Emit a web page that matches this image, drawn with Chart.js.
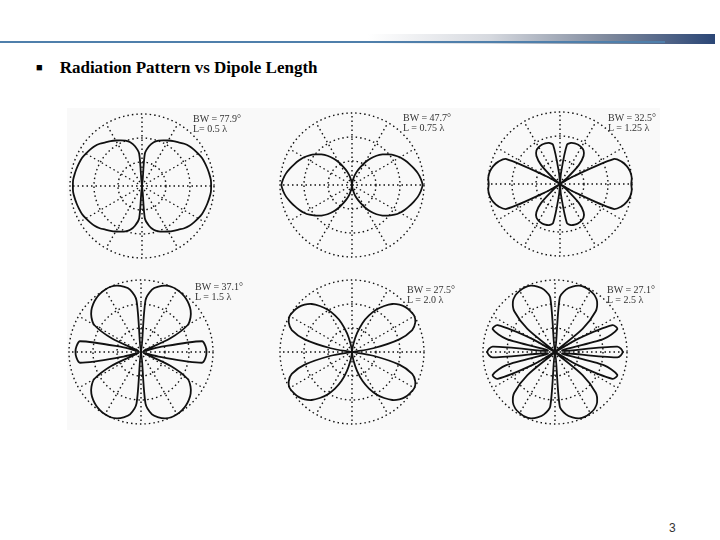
<!DOCTYPE html>
<html>
<head>
<meta charset="utf-8">
<script src="https://cdn.jsdelivr.net/npm/chart.js@4/dist/chart.umd.min.js"></script>
<style>
  body { margin: 0; width: 720px; height: 540px; background: #fff; position: relative; overflow: hidden; }
  .abs { position: absolute; }
  #topLine { left: 0; top: 41px; width: 665px; height: 2px; background: #4f7fab; }
  #topGrad { left: 368px; top: 34px; width: 347px; height: 10px;
             background: linear-gradient(to right, rgba(255,255,255,0), #d6d9df 35%, #7c879b 70%, #2b4676); }
  #title { left: 36px; top: 58px; font: bold 17px "Liberation Serif", serif; color: #000; white-space: nowrap; }
  #title .bul { font-size: 11px; position: relative; top: -2px; margin-right: 17px; }
  #figBox { left: 67px; top: 108px; width: 593px; height: 322px; background: #f9f9f9; }
  .lbl { font: 10px "Liberation Serif", serif; color: #333; line-height: 10px; white-space: nowrap; }
  #pageNum { left: 669px; top: 521px; font: 12px "Liberation Sans", sans-serif; color: #333; }
  canvas.polar { position: absolute; }
</style>
</head>
<body>
<div id="topGrad" class="abs"></div>
<div id="topLine" class="abs"></div>
<div id="title" class="abs"><span class="bul">&#9632;</span>Radiation Pattern vs Dipole Length</div>
<div id="figBox" class="abs"></div>
<div id="pageNum" class="abs">3</div>

<script>
// angles around the plot (degrees, 0 = up, clockwise)
const angles = Array.from({ length: 72 }, (_, i) => i * 5);

// one quadrant (0..90 deg, step 5), normalised to the outer ring
const patL05  = [0, 0.45, 0.56, 0.63, 0.67, 0.70, 0.73, 0.76, 0.79, 0.83, 0.86, 0.88, 0.90, 0.92, 0.93, 0.94, 0.95, 0.96, 0.96];
const patL075 = [0, 0.02, 0.06, 0.13, 0.20, 0.27, 0.36, 0.45, 0.53, 0.60, 0.66, 0.72, 0.77, 0.81, 0.85, 0.89, 0.93, 0.96, 0.98];
const patL125 = [0, 0.15, 0.55, 0.59, 0.60, 0.60, 0.59, 0.57, 0.51, 0.37, 0.12, 0, 0.20, 0.82, 0.91, 0.96, 0.99, 1.00, 0.99];
const patL15  = [0, 0.72, 0.88, 0.94, 0.98, 1.00, 1.00, 0.99, 0.97, 0.94, 0.90, 0.84, 0.75, 0.45, 0.04, 0.25, 0.86, 0.90, 0.91];
const patL20  = [0, 0.02, 0.12, 0.27, 0.43, 0.56, 0.68, 0.78, 0.87, 0.93, 0.97, 0.99, 1.00, 0.97, 0.89, 0.68, 0.30, 0.02, 0];
const patL25  = [0, 0.76, 0.88, 0.94, 0.98, 0.99, 0.98, 0.96, 0.91, 0.80, 0.50, 0, 0.35, 0.88, 0.92, 0.70, 0.10, 0.87, 0.94];

const bwLabels = ['BW = 77.9°', 'BW = 47.7°', 'BW = 32.5°', 'BW = 37.1°', 'BW = 27.5°', 'BW = 27.1°'];
const lenLabels = ['L= 0.5 λ', 'L = 0.75 λ', 'L = 1.25 λ', 'L = 1.5 λ', 'L = 2.0 λ', 'L = 2.5 λ'];
const patterns = [patL05, patL075, patL125, patL15, patL20, patL25];

// canvas placement (150x150 each) and label spots
const plotPos = [[67, 111], [277, 110], [485, 109], [66, 277], [277, 277], [480, 277]];
const lblPos = [[193, 114], [403, 113], [608, 113], [195, 282], [407, 285], [607, 285]];

// pattern is symmetric left/right and top/bottom, so mirror the quadrant
function fullPattern(q) {
    return angles.map(a => {
        let t = a % 180;
        if (t > 90) t = 180 - t;
        return q[t / 5];
    });
}

const dots = [1.5, 3];

patterns.forEach((pat, k) => {
    const cv = document.createElement('canvas');
    cv.className = 'polar';
    cv.width = 150; cv.height = 150;
    cv.style.left = plotPos[k][0] + 'px';
    cv.style.top = plotPos[k][1] + 'px';
    document.body.appendChild(cv);

    const lab = document.createElement('div');
    lab.className = 'abs lbl';
    lab.style.left = lblPos[k][0] + 'px';
    lab.style.top = lblPos[k][1] + 'px';
    lab.innerHTML = bwLabels[k] + '<br>' + lenLabels[k];
    document.body.appendChild(lab);

    new Chart(cv, {
        type: 'radar',
        data: {
            labels: angles,
            datasets: [{
                data: fullPattern(pat),
                borderColor: '#111',
                borderWidth: 1.8,
                backgroundColor: 'transparent',
                fill: false,
                pointRadius: 0,
                tension: 0.3
            }]
        },
        options: {
            responsive: false,
            animation: false,
            layout: { padding: 3 },
            plugins: { legend: { display: false }, tooltip: { enabled: false } },
            scales: {
                r: {
                    min: 0, max: 1,
                    ticks: { display: false, count: 4 },
                    pointLabels: { display: false },
                    grid: { circular: true, color: '#111', lineWidth: 1.4 },
                    border: { dash: dots },
                    angleLines: {
                        color: '#111',
                        lineWidth: c => (c.index % 6 === 0 ? 1.4 : 0),
                        borderDash: dots
                    }
                }
            }
        }
    });
});
</script>
</body>
</html>
